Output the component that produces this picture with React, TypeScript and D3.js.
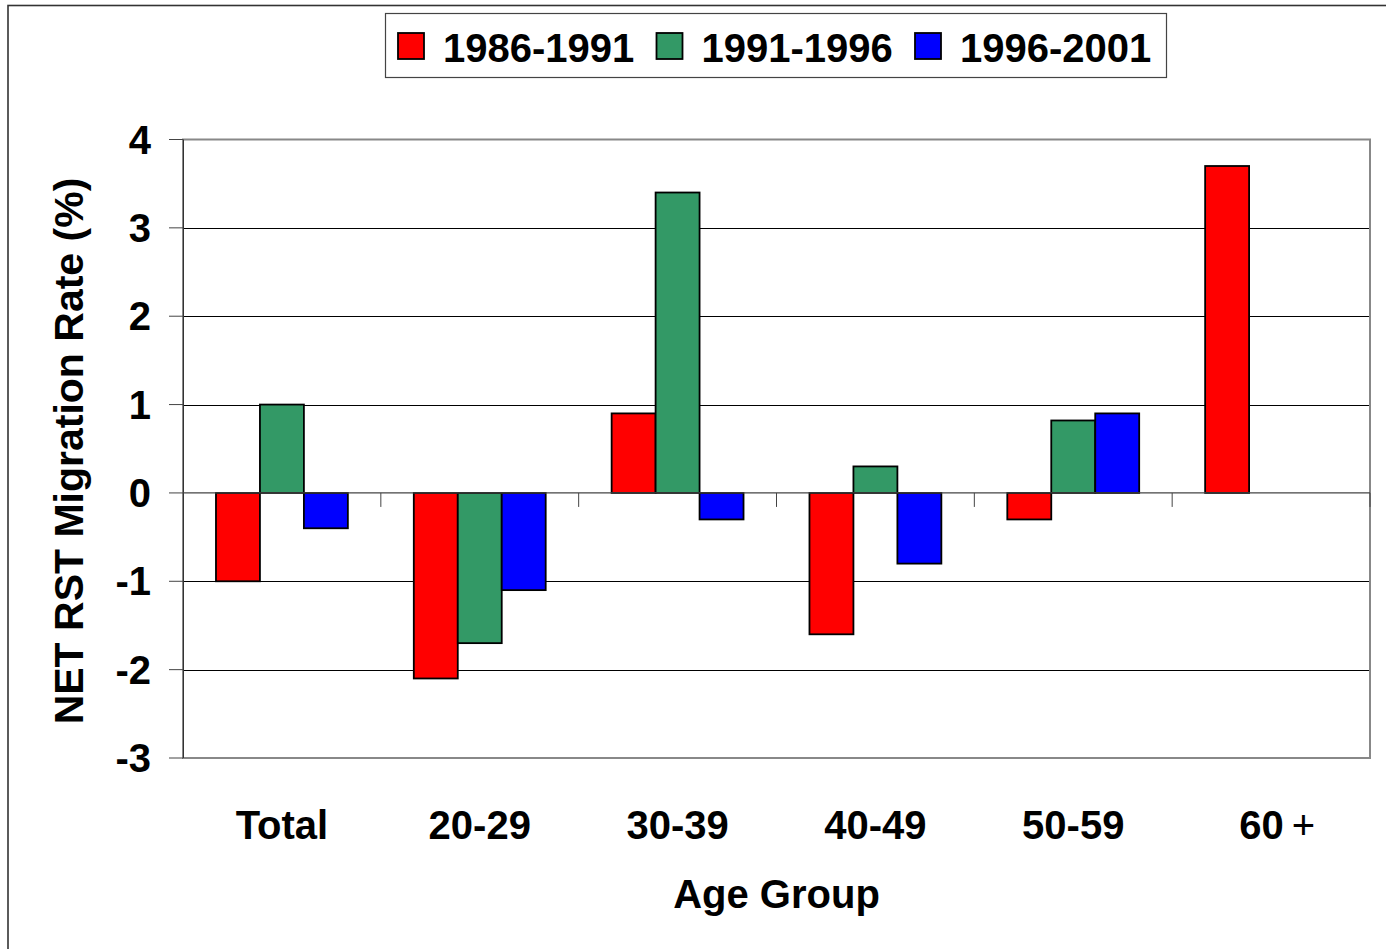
import React from 'react';
import * as d3 from 'd3';

// age groups on the x axis
const categories = ['Total', '20-29', '30-39', '40-49', '50-59', '60+'];
// one series per census period
const seriesNames = ['1986-1991', '1991-1996', '1996-2001'];
const seriesColors = ['#ff0000', '#339966', '#0000ff'];
const rates1986 = [-1.0, -2.1, 0.9, -1.6, -0.3, 3.7];
const rates1991 = [1.0, -1.7, 3.4, 0.3, 0.82, null];
const rates1996 = [-0.4, -1.1, -0.3, -0.8, 0.9, null];
const yTicks = [4, 3, 2, 1, 0, -1, -2, -3];

const WIDTH = 1386;
const HEIGHT = 949;
const plot = { left: 183, right: 1370, top: 139.5, bottom: 758 };
const font = 'Liberation Sans, Arial, Helvetica, sans-serif';

export default function App() {
  const series = [rates1986, rates1991, rates1996];

  const x = d3.scaleBand<string>()
    .domain(categories)
    .range([plot.left, plot.right]);

  const xInner = d3.scaleBand<string>()
    .domain(seriesNames)
    .range([0, x.bandwidth()])
    .paddingInner(0)
    .paddingOuter(0.75);

  const y = d3.scaleLinear()
    .domain([-3, 4])
    .range([plot.bottom, plot.top]);

  const y0 = y(0);
  const legendStep = 258.5;

  return (
    <svg
      width={WIDTH}
      height={HEIGHT}
      style={{ position: 'absolute', left: 0, top: 0, background: '#fff' }}
      fontFamily={font}
    >
      {/* chart area border (only top and left show) */}
      <rect x={8} y={5.5} width={WIDTH + 20} height={HEIGHT + 20} fill="#fff" stroke="#333" strokeWidth={1.6} />

      {/* gridlines */}
      {yTicks.filter(t => t !== 0 && t !== 4 && t !== -3).map(t => (
        <line key={t} x1={plot.left} x2={plot.right} y1={Math.round(y(t)) + 0.5} y2={Math.round(y(t)) + 0.5} stroke="#000" strokeWidth={1} />
      ))}

      {/* plot border */}
      <rect
        x={plot.left}
        y={plot.top}
        width={plot.right - plot.left}
        height={plot.bottom - plot.top}
        fill="none"
        stroke="#888"
        strokeWidth={2}
      />
      <line x1={plot.left + 0.5} x2={plot.left + 0.5} y1={plot.top} y2={plot.bottom} stroke="#333" strokeWidth={1} />

      {/* bars */}
      {series.map((values, si) => (
        <g key={seriesNames[si]}>
          {values.map((v, ci) => {
            if (v === null) return null;
            const bx = x(categories[ci])! + xInner(seriesNames[si])!;
            return (
              <rect
                key={categories[ci]}
                x={bx}
                y={Math.min(y(v), y0)}
                width={xInner.bandwidth()}
                height={Math.abs(y(v) - y0)}
                fill={seriesColors[si]}
                stroke="#000"
                strokeWidth={1.8}
              />
            );
          })}
        </g>
      ))}

      {/* zero axis with category ticks */}
      <line x1={plot.left} x2={plot.right} y1={y0} y2={y0} stroke="#444" strokeWidth={1.2} />
      {categories.map(c => (
        <line
          key={c}
          x1={x(c)! + x.bandwidth()}
          x2={x(c)! + x.bandwidth()}
          y1={y0}
          y2={y0 + 14}
          stroke="#444"
          strokeWidth={1}
        />
      ))}

      {/* y axis ticks and labels */}
      {yTicks.map(t => (
        <g key={t}>
          <line x1={plot.left - 14} x2={plot.left} y1={y(t)} y2={y(t)} stroke="#444" strokeWidth={1} />
          <text
            x={151}
            y={y(t) + 14}
            textAnchor="end"
            fontSize={40}
            fontWeight="bold"
            fill="#000"
          >
            {t}
          </text>
        </g>
      ))}

      {/* x labels */}
      {categories.map(c => (
        <text
          key={c}
          x={x(c)! + x.bandwidth() / 2 + (c === '60+' ? 6 : 0)}
          y={839}
          textAnchor="middle"
          fontSize={40}
          fontWeight="bold"
          fill="#000"
        >
          {c === '60+'
            ? <>60<tspan fontWeight="normal" dx={8}>+</tspan></>
            : c}
        </text>
      ))}

      {/* axis titles */}
      <text
        transform="translate(83, 451) rotate(-90)"
        textAnchor="middle"
        fontSize={41}
        fontWeight="bold"
        fill="#000"
      >
        NET RST Migration Rate (%)
      </text>
      <text x={(plot.left + plot.right) / 2} y={908} textAnchor="middle" fontSize={40} fontWeight="bold" fill="#000">
        Age Group
      </text>

      {/* legend */}
      <rect x={385.5} y={13.5} width={781} height={64} fill="#fff" stroke="#444" strokeWidth={1.2} />
      {seriesNames.map((name, i) => (
        <g key={name} transform={`translate(${398 + i * legendStep}, 0)`}>
          <rect x={0} y={33} width={26} height={26} fill={seriesColors[i]} stroke="#000" strokeWidth={1.8} />
          <text x={45} y={62} fontSize={40} fontWeight="bold" fill="#000">
            {name}
          </text>
        </g>
      ))}
    </svg>
  );
}
